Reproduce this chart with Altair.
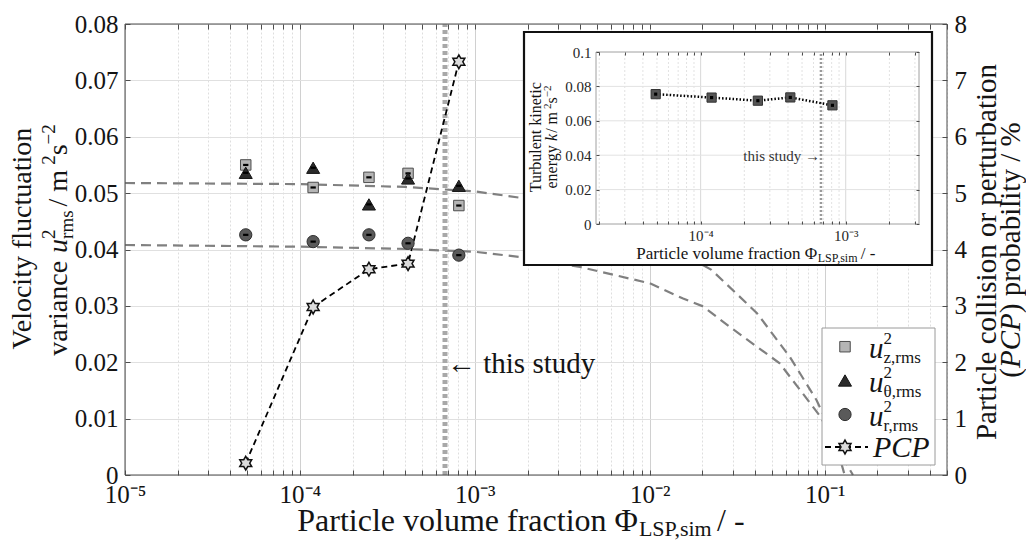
import math
import altair as alt
import pandas as pd

# ---------------- data ----------------
phi_sim = [4.9e-5, 1.19e-4, 2.48e-4, 4.15e-4, 8.1e-4]
u_z_rms = [0.0550, 0.0510, 0.0528, 0.0535, 0.0478]
u_theta_rms = [0.0536, 0.0545, 0.0480, 0.0526, 0.0513]
u_r_rms = [0.0426, 0.0414, 0.0426, 0.0411, 0.0390]
pcp_percent = [0.21, 2.98, 3.65, 3.75, 7.33]
k_tke = [0.0755, 0.0735, 0.0717, 0.0736, 0.0690]
phi_this_study = 6.75e-4

upper_phi = [1e-5, 1e-4, 4e-4, 1e-3, 1.9e-3, 5e-3, 1e-2, 2.25e-2, 4.1e-2, 6.3e-2, 8.97e-2, 0.11, 0.13, 0.145]
upper_u = [0.0518, 0.0516, 0.0511, 0.0503, 0.0491, 0.0462, 0.0425, 0.0364, 0.0287, 0.0210, 0.0133, 0.0075, 0.0025, 0.0]
lower_phi = [1e-5, 1e-4, 4e-4, 1e-3, 1.9e-3, 4e-3, 1e-2, 1.55e-2, 2.02e-2, 2.86e-2, 5.53e-2, 9.48e-2, 0.11, 0.122, 0.13]
lower_u = [0.0408, 0.0405, 0.0401, 0.0396, 0.0386, 0.0369, 0.0340, 0.0313, 0.0299, 0.0263, 0.0198, 0.0103, 0.0065, 0.0030, 0.0]

x_decade_labels = {-5: "10⁻⁵", -4: "10⁻⁴", -3: "10⁻³", -2: "10⁻²", -1: "10⁻¹"}
y_ticks = [0, 0.01, 0.02, 0.03, 0.04, 0.05, 0.06, 0.07, 0.08]
pcp_ticks = [0, 1, 2, 3, 4, 5, 6, 7, 8]
inset_y_ticks = [0, 0.02, 0.04, 0.06, 0.08, 0.1]
inset_decade_labels = {-4: "10⁻⁴", -3: "10⁻³"}

# ---------------- layout ----------------
L, T, W, H = 125, 24, 822, 451
TOTAL_W, TOTAL_H = 1026, 542
FONT = "Liberation Serif"
INK = "#141414"


def rx(a):
    return a - L


def ry(a):
    return a - T


x_vals = [m * 10.0 ** e for e in range(-5, 0) for m in range(1, 10)] + [0.1 * m for m in range(1, 6)]
inset_dom = [1.9e-5, 3.2e-3]
inset_x_vals = [m * 10.0 ** e for e in (-5, -4, -3) for m in range(1, 10)
                if inset_dom[0] < m * 10.0 ** e < inset_dom[1]]
inset_major = [1e-4, 1e-3]
inset_minor = [v for v in inset_x_vals if v not in inset_major]

MAJOR = "abs(log(datum.value)/LN10 - round(log(datum.value)/LN10)) < 0.001"


def pow_expr(mapping):
    e = "round(log(datum.value)/LN10)"
    expr = "''"
    for k, s in mapping.items():
        expr = f"{e} == {k} ? '{s}' : ({expr})"
    return f"{MAJOR} ? ({expr}) : ''"


xs_main = alt.Scale(type="log", domain=[1e-5, 0.5], nice=False)
ys_main = alt.Scale(domain=[0, 0.08], nice=False, zero=False)
ys_pcp = alt.Scale(domain=[0, 8], nice=False, zero=False)
IN_X0, IN_X1, IN_Y0, IN_Y1 = rx(596), rx(919), ry(224), ry(52)
xs_in = alt.Scale(type="log", domain=inset_dom, range=[IN_X0, IN_X1], nice=False)
ys_in = alt.Scale(domain=[0, 0.1], range=[IN_Y0, IN_Y1], nice=False, zero=False)


def tick_axis(orient, offset, values, size=5, z=0):
    return alt.Axis(orient=orient, offset=offset, values=values, ticks=True, tickSize=size,
                    tickColor="#4d4d4d", tickWidth=1, labels=False, domain=False, grid=False,
                    title=None, zindex=z)


# ---------------- text helpers ----------------
WID = {' ': .25, '.': .25, ',': .25, '/': .278, '-': .333, '(': .333, ')': .333, '%': .833,
       'a': .444, 'b': .5, 'c': .444, 'd': .5, 'e': .444, 'f': .333, 'g': .5, 'h': .5,
       'i': .278, 'k': .5, 'l': .278, 'm': .778, 'n': .5, 'o': .5, 'p': .5, 'r': .333,
       's': .389, 't': .278, 'u': .5, 'v': .5, 'y': .5, 'z': .444, 'P': .556, 'L': .611,
       'S': .556, 'C': .667, 'V': .722, 'T': .611, 'Φ': .76, '−': .564, '←': .84, '→': .84,
       'θ': .5, '·': .25}
for d in "0123456789":
    WID[d] = .5
WID_IT = {'u': .5, 'k': .444, 'P': .611, 'C': .667}


def tw(s, size, italic=False):
    tab = dict(WID, **WID_IT) if italic else WID
    return sum(tab.get(c, .5) for c in s) * size


one = pd.DataFrame({"k": [0]})


def txt(t, x, y, size, angle=0, italic=False, align="left", baseline="alphabetic", color=INK):
    return alt.Chart(one).mark_text(
        align=align, baseline=baseline, font=FONT, fontSize=size,
        fontStyle="italic" if italic else "normal", angle=angle, color=color
    ).encode(x=alt.value(x), y=alt.value(y), text=alt.value(t))


def rich(pieces, x0, y0, rot=False, center=False, color=INK):
    # pieces: (text, size, baseline shift (+ = down in text frame), italic, advance[, extra kern])
    total = sum(tw(p[0], p[1], p[3]) + (p[5] if len(p) > 5 else 0) for p in pieces if p[4])
    cur = -total / 2 if center else 0
    out = []
    for p in pieces:
        t, s, sh, it, adv = p[:5]
        cur += p[5] if len(p) > 5 else 0
        if rot:
            out.append(txt(t, x0 + sh, y0 - cur, s, angle=270, italic=it, color=color))
        else:
            out.append(txt(t, x0 + cur, y0 + sh, s, italic=it, color=color))
        if adv:
            cur += tw(t, s, it)
    return out


_pts = []
for k in range(12):
    ang = math.radians(-90 + 30 * k)
    r = 1.0 if k % 2 == 0 else 0.577
    _pts.append((r * math.cos(ang), r * math.sin(ang)))
HEX = "M" + " L".join(f"{px:.3f},{py:.3f}" for px, py in _pts) + " Z"
DASH = "M-1,0 L1,0"

# ---------------- tables ----------------
pts = pd.DataFrame({"phi": phi_sim, "uz": u_z_rms, "ut": u_theta_rms, "ur": u_r_rms,
                    "pcp": pcp_percent, "k": k_tke})
upper = pd.DataFrame({"phi": upper_phi, "u": upper_u})
lower = pd.DataFrame({"phi": lower_phi, "u": lower_u})
study = pd.DataFrame({"phi": [phi_this_study], "y0": [0.0], "y1": [0.08], "i0": [0.0], "i1": [0.1]})

layers = []

main_x_axis = alt.Axis(
    values=x_vals, labelExpr=pow_expr(x_decade_labels), grid=True,
    gridColor={"condition": {"test": MAJOR, "value": "#d0d0d0"}, "value": "#dedede"},
    gridDash={"condition": {"test": MAJOR, "value": []}, "value": [2, 2]},
    gridWidth=1, ticks=False, domain=False, title=None, labelFont=FONT, labelFontSize=25,
    labelColor=INK, labelPadding=7, labelFlush=False, labelOverlap=False, orient="bottom")
main_y_axis = alt.Axis(
    values=y_ticks, labelExpr="datum.value == 0 ? '0' : format(datum.value, '.2f')",
    grid=True, gridColor="#e0e0e0", gridWidth=1, ticks=False, domain=False, title=None,
    labelFont=FONT, labelFontSize=25, labelColor=INK, labelPadding=7, labelFlush=False,
    orient="left")

layers.append(alt.Chart(upper).mark_line(color="#808080", strokeWidth=2.2, strokeDash=[10, 6]).encode(
    x=alt.X("phi:Q", scale=xs_main, axis=main_x_axis),
    y=alt.Y("u:Q", scale=ys_main, axis=main_y_axis)))
layers.append(alt.Chart(lower).mark_line(color="#808080", strokeWidth=2.2, strokeDash=[10, 6]).encode(
    x=alt.X("phi:Q", scale=xs_main, axis=tick_axis("bottom", -5, x_vals)),
    y=alt.Y("u:Q", scale=ys_main, axis=tick_axis("left", -5, y_ticks))))

layers.append(alt.Chart(study).mark_rule(color="#a8a8a8", strokeWidth=5, strokeDash=[4, 3]).encode(
    x=alt.X("phi:Q", scale=xs_main, axis=None),
    y=alt.Y("y0:Q", scale=ys_main, axis=None), y2="y1:Q"))

pcp_axis = alt.Axis(values=pcp_ticks, format="d", ticks=False, domain=False, grid=False, title=None,
                    labelFont=FONT, labelFontSize=25, labelColor=INK, labelPadding=7, orient="right")
layers.append(alt.Chart(pts).mark_line(color="black", strokeWidth=1.8, strokeDash=[6, 4]).encode(
    x=alt.X("phi:Q", scale=xs_main, axis=tick_axis("top", -5, x_vals)),
    y=alt.Y("pcp:Q", scale=ys_pcp, axis=pcp_axis)))

for col, shape, fill, stroke, size in [("uz", "square", "#b5b5b5", "#4d4d4d", 110),
                                       ("ut", "triangle-up", "#2b2b2b", "#151515", 170),
                                       ("ur", "circle", "#5a5a5a", "#2e2e2e", 150)]:
    layers.append(alt.Chart(pts).mark_point(shape=shape, filled=True, fill=fill, stroke=stroke,
                                            strokeWidth=1, size=size, opacity=1).encode(
        x=alt.X("phi:Q", scale=xs_main, axis=None),
        y=alt.Y(f"{col}:Q", scale=ys_main, axis=None)))
    layers.append(alt.Chart(pts).mark_point(shape=DASH, filled=False, stroke="black", strokeWidth=2.2,
                                            size=28, opacity=1).encode(
        x=alt.X("phi:Q", scale=xs_main, axis=None),
        y=alt.Y(f"{col}:Q", scale=ys_main, axis=None)))

layers.append(alt.Chart(pts).mark_point(shape=HEX, filled=True, fill="#dcdcdc", stroke="#111111",
                                        strokeWidth=1.5, size=190, opacity=1).encode(
    x=alt.X("phi:Q", scale=xs_main, axis=None),
    y=alt.Y("pcp:Q", scale=ys_pcp, axis=tick_axis("right", -5, pcp_ticks))))

layers.append(alt.Chart(one).mark_rect(fill="white", fillOpacity=0, stroke="#4d4d4d", strokeWidth=1).encode(
    x=alt.value(0), x2=alt.value(W), y=alt.value(0), y2=alt.value(H)))

layers.append(txt("← this study", rx(447), ry(364), 29, baseline="middle"))

# ---------------- inset ----------------
layers.append(alt.Chart(one).mark_rect(fill="white", stroke="#111111", strokeWidth=2.2).encode(
    x=alt.value(rx(524)), x2=alt.value(rx(932)), y=alt.value(ry(32)), y2=alt.value(ry(265))))

vmin = pd.DataFrame({"v": inset_minor, "y0": 0.0, "y1": 0.1})
vmaj = pd.DataFrame({"v": inset_major, "y0": 0.0, "y1": 0.1})
hgr = pd.DataFrame({"v": [0.02, 0.04, 0.06, 0.08], "x0": inset_dom[0], "x1": inset_dom[1]})

in_x_axis = alt.Axis(orient="bottom", offset=-(H - IN_Y0), values=inset_major,
                     labelExpr=pow_expr(inset_decade_labels), ticks=False, domain=False, grid=False,
                     title=None, labelFont=FONT, labelFontSize=15, labelColor="#262626",
                     labelPadding=4, labelFlush=False, zindex=1)
in_y_axis = alt.Axis(orient="left", offset=-IN_X0, values=inset_y_ticks,
                     labelExpr="datum.value == 0 ? '0' : (datum.value > 0.099 ? '0.1' : format(datum.value, '.2f'))",
                     ticks=False, domain=False, grid=False, title=None, labelFont=FONT,
                     labelFontSize=15, labelColor="#262626", labelPadding=5, labelFlush=False, zindex=1)

layers.append(alt.Chart(vmin).mark_rule(color="#e2e2e2", strokeWidth=1, strokeDash=[2, 2]).encode(
    x=alt.X("v:Q", scale=xs_in, axis=tick_axis("top", -(IN_Y1 + 3), inset_x_vals, 3, 1)),
    y=alt.Y("y0:Q", scale=ys_in, axis=tick_axis("left", -(IN_X0 + 3), inset_y_ticks, 3, 1)), y2="y1:Q"))
layers.append(alt.Chart(vmaj).mark_rule(color="#d8d8d8", strokeWidth=1).encode(
    x=alt.X("v:Q", scale=xs_in, axis=in_x_axis),
    y=alt.Y("y0:Q", scale=ys_in, axis=tick_axis("right", -(W - IN_X1 + 3), inset_y_ticks, 3, 1)), y2="y1:Q"))
layers.append(alt.Chart(hgr).mark_rule(color="#e2e2e2", strokeWidth=1).encode(
    y=alt.Y("v:Q", scale=ys_in, axis=in_y_axis),
    x=alt.X("x0:Q", scale=xs_in, axis=tick_axis("bottom", -(H - IN_Y0 + 3), inset_x_vals, 3, 1)), x2="x1:Q"))
layers.append(alt.Chart(one).mark_rect(fill="white", fillOpacity=0, stroke="#a0a0a0", strokeWidth=1).encode(
    x=alt.value(IN_X0), x2=alt.value(IN_X1), y=alt.value(IN_Y1), y2=alt.value(IN_Y0)))
layers.append(alt.Chart(study).mark_rule(color="#9a9a9a", strokeWidth=2.5, strokeDash=[2, 2]).encode(
    x=alt.X("phi:Q", scale=xs_in, axis=None),
    y=alt.Y("i0:Q", scale=ys_in, axis=None), y2="i1:Q"))
layers.append(alt.Chart(pts).mark_line(color="black", strokeWidth=2.5, strokeDash=[1.5, 2]).encode(
    x=alt.X("phi:Q", scale=xs_in, axis=None), y=alt.Y("k:Q", scale=ys_in, axis=None)))
layers.append(alt.Chart(pts).mark_point(shape="square", filled=True, fill="#555555", stroke="#333333",
                                        strokeWidth=1, size=85, opacity=1).encode(
    x=alt.X("phi:Q", scale=xs_in, axis=None), y=alt.Y("k:Q", scale=ys_in, axis=None)))
layers.append(alt.Chart(pts).mark_point(shape="square", filled=True, fill="black", size=10, opacity=1).encode(
    x=alt.X("phi:Q", scale=xs_in, axis=None), y=alt.Y("k:Q", scale=ys_in, axis=None)))

layers.append(txt("this study →", rx(820), ry(156), 15, align="right", baseline="middle", color="#333333"))
layers += rich([("Turbulent kinetic", 16, 0, False, True)], rx(541), ry(137), rot=True, center=True)
layers += rich([("energy ", 16, 0, False, True), ("k", 16, 0, True, True), (" / m", 16, 0, False, True, 1),
                ("2", 11, -6, False, True, -1), ("s", 16, 0, False, True), ("−2", 11, -6, False, True)],
               rx(557), ry(137), rot=True, center=True)
layers += rich([("Particle volume fraction Φ", 17, 0, False, True), ("LSP,sim", 12, 3, False, True),
                (" / -", 17, 0, False, True, 2)], rx(758), ry(259), center=True)

# ---------------- legend ----------------
layers.append(alt.Chart(one).mark_rect(fill="white", stroke="#9a9a9a", strokeWidth=1).encode(
    x=alt.value(rx(822)), x2=alt.value(rx(935)), y=alt.value(ry(328)), y2=alt.value(ry(465))))
leg_rows = [346.7, 380.5, 414.5, 447.0]
for yc, shape, fill, stroke, size in [(leg_rows[0], "square", "#b5b5b5", "#4d4d4d", 110),
                                      (leg_rows[1], "triangle-up", "#2b2b2b", "#151515", 170),
                                      (leg_rows[2], "circle", "#5a5a5a", "#2e2e2e", 150)]:
    layers.append(alt.Chart(one).mark_point(shape=shape, filled=True, fill=fill, stroke=stroke,
                                            strokeWidth=1, size=size, opacity=1).encode(
        x=alt.value(rx(845)), y=alt.value(ry(yc))))
layers.append(alt.Chart(one).mark_rule(color="black", strokeWidth=1.8, strokeDash=[6, 4]).encode(
    x=alt.value(rx(825)), x2=alt.value(rx(868)), y=alt.value(ry(leg_rows[3]))))
layers.append(alt.Chart(one).mark_point(shape=HEX, filled=True, fill="#dcdcdc", stroke="#111111",
                                        strokeWidth=1.5, size=190, opacity=1).encode(
    x=alt.value(rx(845)), y=alt.value(ry(leg_rows[3]))))
for yc, sub in zip(leg_rows[:3], ["z,rms", "θ,rms", "r,rms"]):
    layers += rich([("u", 29, 0, True, True), ("2", 17, -14, False, False), (sub, 17, 5, False, True)],
                   rx(869), ry(yc + 11))
layers += rich([("PCP", 30, 0, True, True)], rx(873), ry(leg_rows[3] + 10))

# ---------------- axis titles ----------------
layers += rich([("Velocity fluctuation", 28, 0, False, True)], rx(31), ry(237), rot=True, center=True)
layers += rich([("variance ", 28, 0, False, True), ("u", 28, 0, True, True, 1), ("2", 19, -12, False, False),
                ("rms", 19, 6, False, True), (" / m", 28, 0, False, True, 4), ("2", 19, -12, False, True, -2),
                ("s", 28, 0, False, True), ("−2", 19, -12, False, True)],
               rx(67), ry(240), rot=True, center=True)
layers += rich([("Particle collision or perturbation", 29, 0, False, True)], rx(996), ry(252), rot=True, center=True)
layers += rich([("(", 29, 0, False, True), ("PCP", 29, 0, True, True), (") probability / %", 29, 0, False, True)],
               rx(1020), ry(250), rot=True, center=True)
layers += rich([("Particle volume fraction Φ", 32, 0, False, True), ("LSP,sim", 22, 5, False, True),
                (" / -", 32, 0, False, True, 3)], rx(525), ry(531), center=True)

chart = alt.layer(*layers).properties(
    width=W, height=H,
    padding={"left": L, "top": T, "right": TOTAL_W - L - W, "bottom": TOTAL_H - T - H},
    autosize=alt.AutoSizeParams(type="none"),
).resolve_scale(x="independent", y="independent").resolve_axis(
    x="independent", y="independent").configure_view(strokeWidth=0)

chart.save("out.html", embed_options={"renderer": "svg", "actions": False})
